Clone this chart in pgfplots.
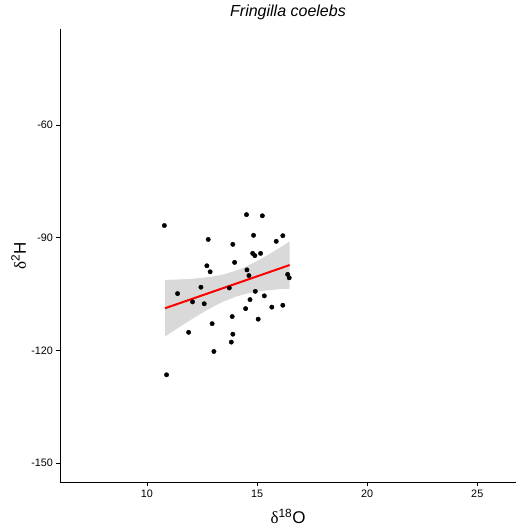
\documentclass[border=0pt]{standalone}
\usepackage{pgfplots}
\pgfplotsset{compat=1.18}
\usepackage{fontspec}
\setmainfont{Liberation Sans}
\newfontfamily\greekserif{Liberation Serif}
\definecolor{bandgray}{HTML}{D9D9D9}
\begin{document}
\begin{tikzpicture}[x=1pt,y=1pt]
\begin{axis}[
  at={(0,0)}, anchor=south west,
  scale only axis, width=456pt, height=453.4pt,
  xmin=6.05, xmax=26.76, ymin=-155.2, ymax=-34.6,
  axis x line*=bottom, axis y line*=left,
  xtick={10,15,20,25}, ytick={-150,-120,-90,-60},
  xticklabels={10,15,20,25}, yticklabels={-150,-120,-90,-60},
  tick align=outside, major tick length=3.5pt,
  tick style={black, line width=0.5pt},
  axis line style={black, line width=0.8pt},
  ticklabel style={font=\fontsize{10.8}{12}\selectfont, text=black},
  xticklabel style={yshift=-0.5pt},
  yticklabel style={xshift=0pt},
  title={\fontsize{16}{18}\selectfont\itshape Fringilla coelebs},
  title style={at={(axis description cs:0.5,1)}, anchor=base, yshift=6.6pt},
  xlabel={\fontsize{17}{19}\selectfont {\greekserif δ}\textsuperscript{18}O},
  xlabel style={at={(axis description cs:0.5,0)}, anchor=base, yshift=-40.6pt},
  ylabel={\fontsize{17}{19}\selectfont {\greekserif δ}\textsuperscript{2}H},
  ylabel style={at={(axis description cs:0,0.5)}, anchor=base, yshift=34pt},
  clip=false,
]
% confidence band
\addplot[draw=none, fill=bandgray] coordinates {
(10.82,-101.27) (11.5,-101.13) (12,-100.96) (12.5,-100.72) (13,-100.34) (13.5,-99.76)
(14,-98.89) (14.5,-97.72) (15,-96.25) (15.5,-94.60) (16,-92.81) (16.48,-91.02)
(16.48,-103.60) (16,-103.75) (15.5,-104.00) (15,-104.37) (14.5,-104.94) (14,-105.79)
(13.5,-106.96) (13,-108.40) (12.5,-110.06) (12,-111.84) (11.5,-113.71) (10.82,-116.33)
} -- cycle;
% points
\addplot[only marks, mark=*, mark size=2.2pt, black] coordinates {
(10.79,-86.8) (14.52,-83.9) (15.24,-84.2) (12.78,-90.5) (13.90,-91.8) (14.84,-89.4)
(15.87,-91.0) (16.17,-89.5) (14.80,-94.2) (14.90,-94.8) (15.16,-94.2) (13.98,-96.6)
(12.72,-97.5) (12.87,-99.1) (14.54,-98.6) (14.63,-100.1) (16.39,-99.8) (16.46,-100.7)
(11.39,-104.9) (12.45,-103.2) (13.74,-103.4) (14.92,-104.3) (15.33,-105.5) (14.68,-106.5)
(12.07,-107.1) (12.60,-107.6) (14.48,-108.9) (15.67,-108.5) (16.17,-108.0) (15.05,-111.7)
(13.87,-111.0) (12.96,-112.9) (11.89,-115.2) (13.90,-115.7) (13.83,-117.8) (13.04,-120.3)
(10.89,-126.5)
};
% regression line
\addplot[red, line width=2pt] coordinates {(10.82,-108.8) (16.48,-97.31)};
\end{axis}
\pgfresetboundingbox
\path (-60pt,-44.3pt) rectangle (456pt,482.7pt);
\end{tikzpicture}
\end{document}
